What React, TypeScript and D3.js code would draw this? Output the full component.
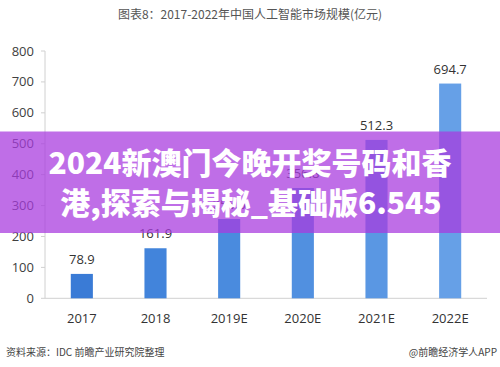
import React from "react";
import * as d3 from "d3";

const categories = ["2017", "2018", "2019E", "2020E", "2021E", "2022E"];
const values = [78.9, 161.9, 256.6, 356.8, 512.3, 694.7];
const labels = ["78.9", "161.9", "256.6", "356.8", "512.3", "694.7"];
const yTicks = [0, 100, 200, 300, 400, 500, 600, 700, 800];
const barColors = ["#3a7bd6", "#4284db", "#4a8bde", "#5190e0", "#5a97e3", "#66a0e7"];
const title = "图表8：2017-2022年中国人工智能市场规模(亿元)";
const sourceText = "资料来源：IDC 前瞻产业研究院整理";
const brandText = "@前瞻经济学人APP";
const bannerLines = ["2024新澳门今晚开奖号码和香", "港,探索与揭秘_基础版6.545"];

const W = 500;
const H = 367;
const font = "'Noto Sans CJK SC', 'Noto Sans', sans-serif";

export default function App() {
  const x = d3
    .scaleBand<string>()
    .domain(categories)
    .range([45, 487])
    .paddingInner(0.7)
    .paddingOuter(0.35);
  const y = d3.scaleLinear().domain([0, 800]).range([298.3, 51]);

  return (
    <svg
      width={W}
      height={H}
      style={{ position: "absolute", left: 0, top: 0, background: "#fff" }}
      fontFamily={font}
    >
      <rect x={0} y={0} width={W} height={H} fill="#fff" />
      <text x={250} y={19} textAnchor="middle" fontSize={12} fill="#555">
        {title}
      </text>

      {/* y axis */}
      <line x1={45} x2={45} y1={y(800)} y2={y(0)} stroke="#d0d0d0" />
      {yTicks.map((t) => (
        <g key={t}>
          <line x1={41} x2={45} y1={y(t)} y2={y(t)} stroke="#d0d0d0" />
          <text x={34} y={y(t) + 4.5} textAnchor="end" fontSize={13} fill="#404040" fontFamily="'Open Sans', sans-serif">
            {t}
          </text>
        </g>
      ))}
      {/* x axis */}
      <line x1={45} x2={487} y1={y(0)} y2={y(0)} stroke="#d0d0d0" />

      {categories.map((c, i) => (
        <g key={c}>
          <rect
            x={x(c)}
            y={y(values[i])}
            width={x.bandwidth()}
            height={y(0) - y(values[i])}
            fill={barColors[i]}
          />
          <text
            x={(x(c) as number) + x.bandwidth() / 2}
            y={y(values[i]) - 10}
            textAnchor="middle"
            fontSize={13}
            fill="#333"
            fontFamily="'Open Sans', sans-serif"
          >
            {labels[i]}
          </text>
          <text
            x={(x(c) as number) + x.bandwidth() / 2}
            y={322.5}
            textAnchor="middle"
            fontSize={13}
            fill="#333"
            fontFamily="'Open Sans', sans-serif"
          >
            {c}
          </text>
        </g>
      ))}

      <text x={6} y={356} fontSize={10} fill="#444">
        {sourceText}
      </text>
      <text x={497} y={356} textAnchor="end" fontSize={10} fill="#444">
        {brandText}
      </text>

      {/* banner overlay */}
      <rect x={0} y={131.5} width={W} height={101.5} fill="rgb(168,60,222)" fillOpacity={0.74} />
      <text x={250} y={174} textAnchor="middle" fontSize={30} fontWeight={900} fill="#fff">
        {bannerLines[0]}
      </text>
      <text x={251} y={214} textAnchor="middle" fontSize={30} fontWeight={900} fill="#fff">
        {bannerLines[1]}
      </text>
    </svg>
  );
}
